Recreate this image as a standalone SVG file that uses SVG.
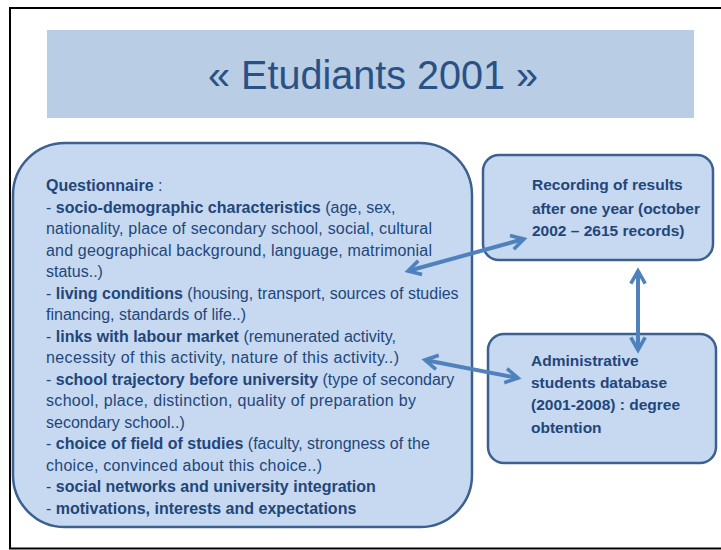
<svg xmlns="http://www.w3.org/2000/svg" width="721" height="550" viewBox="0 0 721 550">
<defs>
<marker id="chev" viewBox="0 0 10 10" refX="8" refY="5" markerWidth="4.5" markerHeight="4.5" orient="auto-start-reverse" markerUnits="strokeWidth">
<path d="M1,1 L8,5 L1,9" fill="none" stroke="#4f81bd" stroke-width="2" stroke-linejoin="miter"/>
</marker>
<style>
.box{fill:#c6d9f0;stroke:#3c6090;stroke-width:2.5}
.t{font-family:"Liberation Sans",Arial,sans-serif;font-size:16px;fill:#23467a}
.r{font-size:15.5px}
.b{font-weight:bold}
.conn{stroke:#4f81bd;stroke-width:4;fill:none;marker-start:url(#chev);marker-end:url(#chev)}
</style>
</defs>
<rect x="0" y="0" width="721" height="550" fill="#ffffff"/>
<path d="M10,549 L10,8 L722,8" fill="none" stroke="#000" stroke-width="2"/>
<line x1="9" y1="548.5" x2="722" y2="548.5" stroke="#000" stroke-width="2"/>

<g id="title">
<rect x="47" y="30" width="647" height="88" fill="#b9cde4"/>
<text x="373" y="89" text-anchor="middle" font-family="Liberation Sans,Arial,sans-serif" font-size="40" fill="#2a5185" textLength="330" lengthAdjust="spacingAndGlyphs">« Etudiants 2001 »</text>
</g>

<g id="questionnaire">
<rect class="box" x="13" y="143" width="459" height="384" rx="52" ry="52"/>
<text class="t">
<tspan x="46" y="191"><tspan class="b">Questionnaire</tspan> :</tspan>
<tspan x="46" y="212.5">- <tspan class="b">socio-demographic characteristics</tspan> (age, sex,</tspan>
<tspan x="46" y="234" textLength="386">nationality, place of secondary school, social, cultural</tspan>
<tspan x="46" y="255.5" textLength="386">and geographical background, language, matrimonial</tspan>
<tspan x="46" y="277">status..)</tspan>
<tspan x="46" y="298.5">- <tspan class="b">living conditions</tspan> (housing, transport, sources of studies</tspan>
<tspan x="46" y="320">financing, standards of life..)</tspan>
<tspan x="46" y="341.5">- <tspan class="b">links with labour market</tspan> (remunerated activity,</tspan>
<tspan x="46" y="363" textLength="353">necessity of this activity, nature of this activity..)</tspan>
<tspan x="46" y="384.5">- <tspan class="b">school trajectory before university</tspan> (type of secondary</tspan>
<tspan x="46" y="406" textLength="370">school, place, distinction, quality of preparation by</tspan>
<tspan x="46" y="427.5">secondary school..)</tspan>
<tspan x="46" y="449">- <tspan class="b">choice of field of studies</tspan> (faculty, strongness of the</tspan>
<tspan x="46" y="470.5" textLength="276">choice, convinced about this choice..)</tspan>
<tspan x="46" y="492">- <tspan class="b">social networks and university integration</tspan></tspan>
<tspan x="46" y="513.5">- <tspan class="b">motivations, interests and expectations</tspan></tspan>
</text>
</g>

<g id="recording">
<rect class="box" x="483" y="155" width="230" height="105" rx="16" ry="16"/>
<text class="t r b">
<tspan x="532" y="190">Recording of results</tspan>
<tspan x="532" y="214">after one year (october</tspan>
<tspan x="532" y="236">2002 – 2615 records)</tspan>
</text>
</g>

<g id="admin">
<rect class="box" x="488" y="334" width="228" height="129" rx="16" ry="16"/>
<text class="t r b">
<tspan x="531" y="366">Administrative</tspan>
<tspan x="531" y="388">students database</tspan>
<tspan x="531" y="410">(2001-2008) : degree</tspan>
<tspan x="531" y="433">obtention</tspan>
</text>
</g>

<g id="connectors">
<line class="conn" x1="408" y1="271" x2="524" y2="239"/>
<line class="conn" x1="425" y1="360" x2="518" y2="378"/>
<line class="conn" x1="638" y1="271" x2="638" y2="350"/>
</g>
</svg>
